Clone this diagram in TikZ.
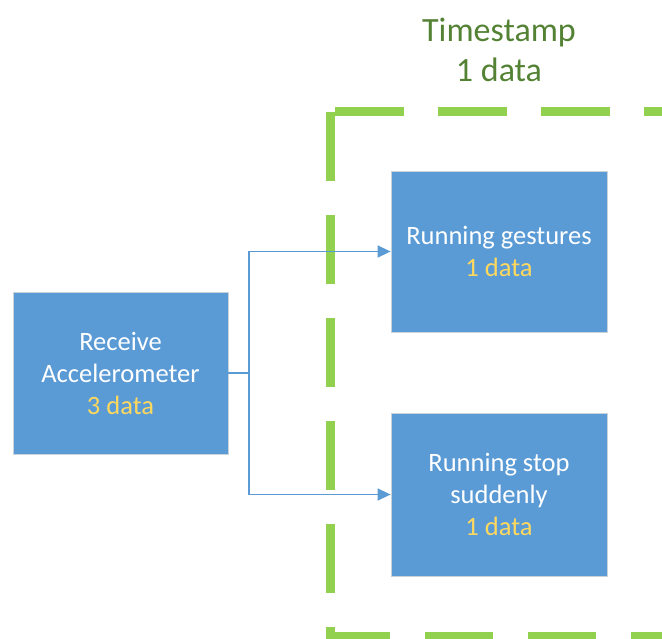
\documentclass[tikz,border=0pt]{standalone}
\usepackage{fontspec}
\setmainfont{Carlito}
\usetikzlibrary{arrows.meta}
\definecolor{boxblue}{HTML}{5B9BD5}
\definecolor{boxedge}{HTML}{C9D3DC}
\definecolor{datagold}{HTML}{FFD85E}
\definecolor{titlegreen}{HTML}{548235}
\definecolor{dashgreen}{HTML}{92D050}
\tikzset{
  blockbox/.style={draw=boxedge, line width=0.8pt, fill=boxblue, text=white, align=center,
    font=\fontsize{26.5pt}{32pt}\selectfont, inner sep=0pt},
  greendash/.style={draw=dashgreen, line width=8.6pt, dash pattern=on 68.5pt off 34.5pt},
  link/.style={draw=boxblue, line width=1.5pt},
  linkarrow/.style={link, -{Triangle[length=13pt,width=12pt]}},
  gold/.style={color=datagold}
}
\begin{document}
\begin{tikzpicture}[x=1pt,y=-1pt]
\useasboundingbox (0,0) rectangle (662,638);
% dashed timestamp frame
\draw[greendash] (335.3,111.3) -- (700,111.3);
\draw[greendash] (330.7,112) -- (330.7,660);
\draw[greendash, dash phase=4.8pt] (326.3,636) -- (700,636);
% title
\node[text=titlegreen, align=center, font=\fontsize{34pt}{40pt}\selectfont] (title) at (499,50) {Timestamp\\1 data};
% boxes
\node[blockbox, minimum width=215pt, minimum height=162pt] (recv) at (120.5,373)
  {Receive\\Accelerometer\\{\color{datagold}3 data}};
\node[blockbox, minimum width=216pt, minimum height=161pt] (gest) at (499,251.5)
  {Running gestures\\{\color{datagold}1 data}};
\node[blockbox, minimum width=216pt, minimum height=163pt] (stop) at (499,494.5)
  {Running stop\\suddenly\\{\color{datagold}1 data}};
% connectors
\coordinate (split) at (249,373);
\draw[link] (recv.east) -- (split);
\draw[linkarrow] (split) |- (gest.west);
\draw[linkarrow] (split) |- (stop.west);
\end{tikzpicture}
\end{document}
